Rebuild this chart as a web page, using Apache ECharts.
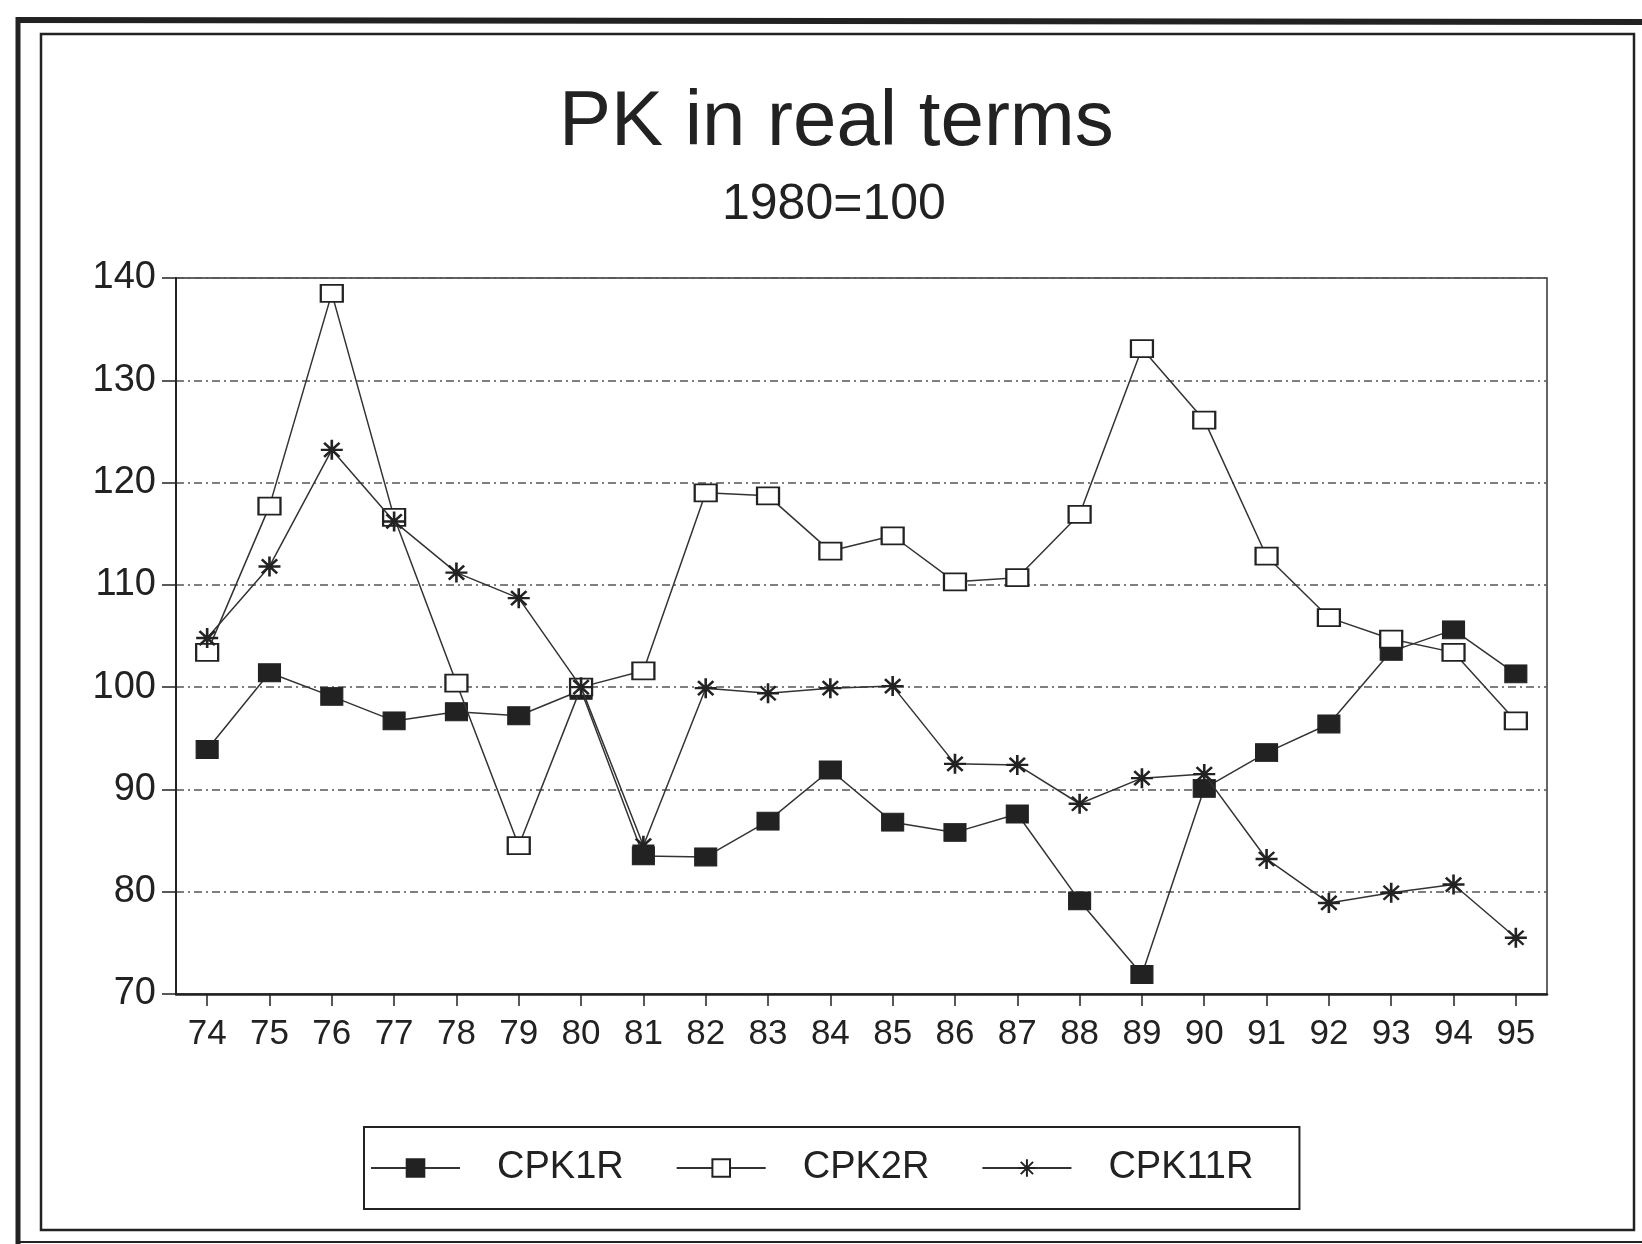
<!DOCTYPE html>
<html>
<head>
<meta charset="utf-8">
<title>PK in real terms</title>
<script src="https://cdn.jsdelivr.net/npm/echarts@6/dist/echarts.min.js"></script>
<style>
  html, body { margin: 0; padding: 0; background: #fff; }
  #main { width: 1642px; height: 1244px; }
</style>
</head>
<body>
<div id="main"></div>
<script>
// years on the x axis (19xx)
var years = ['74', '75', '76', '77', '78', '79', '80', '81', '82', '83', '84',
  '85', '86', '87', '88', '89', '90', '91', '92', '93', '94', '95'];

// index values, 1980 = 100
var cpk1r = [93.9, 101.4, 99.1, 96.7, 97.6, 97.2, 99.7, 83.5, 83.4, 86.9, 91.9,
  86.8, 85.8, 87.6, 79.1, 71.9, 90.1, 93.6, 96.4, 103.5, 105.6, 101.3];
var cpk2r = [103.4, 117.7, 138.5, 116.6, 100.4, 84.5, 100.0, 101.6, 119.0, 118.7, 113.3,
  114.8, 110.3, 110.7, 116.9, 133.1, 126.1, 112.8, 106.8, 104.7, 103.4, 96.7];
var cpk11r = [104.8, 111.8, 123.2, 116.2, 111.2, 108.7, 100.0, 84.5, 99.9, 99.4, 99.9,
  100.1, 92.5, 92.4, 88.6, 91.1, 91.5, 83.2, 78.9, 79.9, 80.7, 75.5];

var yTicks = [70, 80, 90, 100, 110, 120, 130, 140];

var ink = '#222';
var font = "'Liberation Sans', Arial, sans-serif";
var star = 'path://M0,5L10,5M5,0L5,10M1.5,1.5L8.5,8.5M8.5,1.5L1.5,8.5';

var chart = echarts.init(document.getElementById('main'));

var option = {
  backgroundColor: '#fff',
  animation: false,
  title: [
    {
      text: 'PK in real terms',
      left: 559,
      top: 84,
      padding: 0,
      textStyle: { fontFamily: font, fontSize: 78, fontWeight: 'normal', color: ink }
    },
    {
      text: '1980=100',
      left: 722,
      top: 180,
      padding: 0,
      textStyle: { fontFamily: font, fontSize: 50, fontWeight: 'normal', color: ink }
    }
  ],
  grid: {
    left: 176,
    right: 95,
    top: 278,
    bottom: 250,
    show: true,
    borderColor: '#333',
    borderWidth: 1.5
  },
  legend: {
    left: 364,
    top: 1127,
    orient: 'horizontal',
    padding: [22, 46, 22, 6],
    borderColor: ink,
    borderWidth: 2,
    itemWidth: 89,
    itemHeight: 22,
    itemGap: 52,
    textStyle: { fontFamily: font, fontSize: 38, color: ink, padding: [0, 0, 0, 32] },
    data: ['CPK1R', 'CPK2R', 'CPK11R']
  },
  xAxis: {
    type: 'category',
    data: years,
    boundaryGap: true,
    axisLine: { show: true, lineStyle: { color: ink, width: 2.5 } },
    axisTick: { show: true, alignWithLabel: true, length: 12, lineStyle: { color: ink, width: 1.5 } },
    axisLabel: { fontFamily: font, fontSize: 35, color: ink, margin: 23 },
    splitLine: { show: false }
  },
  yAxis: {
    type: 'value',
    min: yTicks[0],
    max: yTicks[yTicks.length - 1],
    interval: 10,
    axisLine: { show: true, lineStyle: { color: ink, width: 2 } },
    axisTick: { show: true, length: 14, lineStyle: { color: ink, width: 1.5 } },
    axisLabel: { fontFamily: font, fontSize: 38, color: ink, margin: 20 },
    splitLine: { show: true, lineStyle: { color: '#555', width: 1.5, type: [8, 4, 2, 4] } }
  },
  series: [
    {
      name: 'CPK1R',
      type: 'line',
      data: cpk1r,
      symbol: 'rect',
      symbolSize: [22, 18],
      color: ink,
      lineStyle: { color: '#333', width: 1.5 },
      itemStyle: { color: ink, borderColor: ink, borderWidth: 1 },
      z: 3
    },
    {
      name: 'CPK2R',
      type: 'line',
      data: cpk2r,
      symbol: 'rect',
      symbolSize: [22, 17],
      color: ink,
      lineStyle: { color: '#333', width: 1.5 },
      itemStyle: { color: '#fff', borderColor: ink, borderWidth: 2 },
      z: 4
    },
    {
      name: 'CPK11R',
      type: 'line',
      data: cpk11r,
      symbol: star,
      symbolSize: [22, 20],
      color: ink,
      lineStyle: { color: '#333', width: 1.5 },
      itemStyle: { color: ink, borderColor: ink, borderWidth: 2.5 },
      z: 5
    }
  ],
  graphic: [
    // scanned page frame
    { type: 'line', shape: { x1: 16, y1: 20, x2: 1642, y2: 22 }, style: { stroke: ink, lineWidth: 6 } },
    { type: 'line', shape: { x1: 18, y1: 17, x2: 18, y2: 1244 }, style: { stroke: ink, lineWidth: 5 } },
    { type: 'line', shape: { x1: 16, y1: 1242, x2: 1642, y2: 1242 }, style: { stroke: ink, lineWidth: 2 } },
    { type: 'rect', shape: { x: 41, y: 34, width: 1593, height: 1196 }, style: { stroke: ink, fill: null, lineWidth: 2.5 } }
  ]
};

chart.setOption(option);
</script>
</body>
</html>
